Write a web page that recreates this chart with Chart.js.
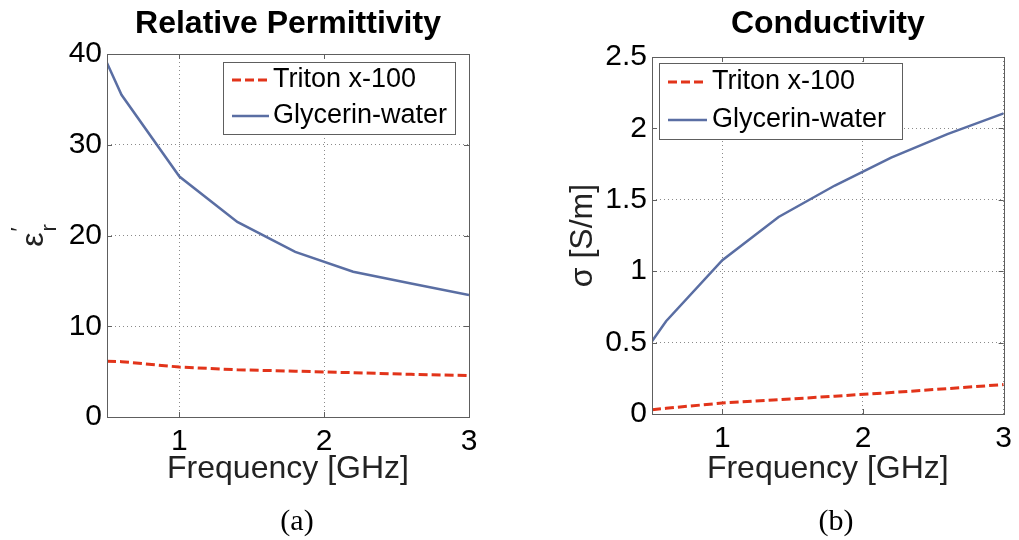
<!DOCTYPE html>
<html lang="en">
<head>
<meta charset="UTF-8">
<title>Relative Permittivity and Conductivity</title>
<script src="https://cdn.jsdelivr.net/npm/chart.js"></script>
<style>
  body { margin: 0; background: #fff; width: 1019px; height: 540px; position: relative; overflow: hidden; }
  .panel { position: absolute; top: 0; }
  .caption {
    position: absolute; top: 503px; width: 100px; text-align: center;
    font-family: 'Liberation Serif', 'Times New Roman', serif; font-size: 30px; line-height: 34px; color: #000;
  }
</style>
</head>
<body>
<div class="panel" style="left:0"><canvas id="permChart" width="510" height="540"></canvas></div>
<div class="panel" style="left:510px"><canvas id="condChart" width="509" height="540"></canvas></div>
<div class="caption" style="left:247px">(a)</div>
<div class="caption" style="left:786px">(b)</div>

<script>
// frequency points [GHz]
var freq = [0.5, 0.6, 1.0, 1.4, 1.8, 2.2, 2.6, 3.0];

// relative permittivity
var epsTriton   = [6.15, 6.1, 5.5, 5.2, 5.05, 4.88, 4.7, 4.56];
var epsGlycerin = [39.0, 35.5, 26.5, 21.5, 18.2, 16.0, 14.7, 13.45];

// conductivity [S/m]
var sigTriton   = [0.03, 0.04, 0.077, 0.10, 0.125, 0.15, 0.178, 0.206];
var sigGlycerin = [0.51, 0.65, 1.077, 1.38, 1.6, 1.796, 1.96, 2.105];

var seriesNames = ['Triton x-100', 'Glycerin-water'];
var freqTicks = [1, 2, 3];
var epsTicks = [0, 10, 20, 30, 40];
var sigTicks = [0, 0.5, 1, 1.5, 2, 2.5];

var FONT = "'Liberation Sans', Arial, sans-serif";
var RED = '#e2341a';
var BLUE = '#5a6ea3';

function pts(xs, ys) {
  return xs.map(function (x, i) { return { x: x, y: ys[i] }; });
}

// box around plot, inward tick marks and the legend (matlab look)
var boxPlugin = {
  id: 'matlabBox',
  afterDatasetsDraw: function (chart, args, opts) {
    var a = chart.chartArea, ctx = chart.ctx;
    var xs = chart.scales.x, ys = chart.scales.y;
    ctx.save();
    ctx.strokeStyle = '#5e5e5e';
    ctx.lineWidth = 1;
    ctx.strokeRect(Math.round(a.left) + 0.5, Math.round(a.top) + 0.5,
      Math.round(a.right - a.left), Math.round(a.bottom - a.top));
    ctx.beginPath();
    xs.ticks.forEach(function (t) {
      var px = Math.round(xs.getPixelForValue(t.value)) + 0.5;
      ctx.moveTo(px, a.bottom); ctx.lineTo(px, a.bottom - 5);
      ctx.moveTo(px, a.top); ctx.lineTo(px, a.top + 5);
    });
    ys.ticks.forEach(function (t) {
      var py = Math.round(ys.getPixelForValue(t.value)) + 0.5;
      ctx.moveTo(a.left, py); ctx.lineTo(a.left + 5, py);
      ctx.moveTo(a.right, py); ctx.lineTo(a.right - 5, py);
    });
    ctx.stroke();

    // legend
    var L = opts.legend;
    var bx = Math.round(a.left + L.dx), by = Math.round(a.top + L.dy);
    ctx.fillStyle = '#fff';
    ctx.fillRect(bx, by, L.w, L.h);
    ctx.strokeStyle = '#5e5e5e';
    ctx.lineWidth = 1;
    ctx.strokeRect(bx + 0.5, by + 0.5, L.w, L.h);
    chart.data.datasets.forEach(function (ds, i) {
      var cy = by + L.h * (2 * i + 1) / 4;
      ctx.strokeStyle = ds.borderColor;
      ctx.lineWidth = ds.borderWidth;
      ctx.setLineDash(ds.borderDash || []);
      ctx.beginPath();
      ctx.moveTo(bx + 9, cy);
      ctx.lineTo(bx + 9 + L.line, cy);
      ctx.stroke();
      ctx.setLineDash([]);
      ctx.fillStyle = '#000';
      ctx.font = '27px ' + FONT;
      ctx.textBaseline = 'middle';
      ctx.textAlign = 'left';
      ctx.fillText(ds.label, bx + L.text, cy);
    });
    ctx.restore();
  }
};

// epsilon' with subscript r, rotated
var epsLabelPlugin = {
  id: 'epsLabel',
  afterDraw: function (chart) {
    var ctx = chart.ctx, a = chart.chartArea;
    ctx.save();
    ctx.translate(35, (a.top + a.bottom) / 2);
    ctx.rotate(-Math.PI / 2);
    ctx.fillStyle = '#222';
    ctx.textBaseline = 'alphabetic';
    ctx.textAlign = 'left';
    ctx.font = '32px ' + FONT;
    var wE = ctx.measureText('ε').width;
    ctx.font = '22px ' + FONT;
    var wR = Math.max(ctx.measureText('r').width, ctx.measureText('′').width);
    var x0 = -(wE + 1 + wR) / 2;
    ctx.font = '32px ' + FONT;
    ctx.fillText('ε', x0, 8);
    ctx.font = '22px ' + FONT;
    ctx.fillText('r', x0 + wE + 1, 21);
    ctx.fillText('′', x0 + wE + 1, -9);
    ctx.restore();
  }
};

function makeChart(id, o) {
  var ctx = document.getElementById(id).getContext('2d');
  return new Chart(ctx, {
    type: 'line',
    data: {
      datasets: [{
        label: seriesNames[0],
        data: pts(freq, o.triton),
        borderColor: RED,
        borderWidth: 3,
        borderDash: [9, 4],
        pointRadius: 0,
        tension: 0,
        fill: false
      }, {
        label: seriesNames[1],
        data: pts(freq, o.glycerin),
        borderColor: BLUE,
        borderWidth: 2.5,
        pointRadius: 0,
        tension: 0,
        fill: false
      }]
    },
    options: {
      responsive: false,
      animation: false,
      layout: { padding: { left: 0, right: o.padRight, top: 0, bottom: 0 } },
      plugins: {
        legend: { display: false },
        tooltip: { enabled: false },
        title: {
          display: true,
          text: o.title,
          fullSize: false,
          color: '#000',
          font: { family: FONT, size: 32, weight: 'bold' },
          padding: { top: 5, bottom: o.titleGap }
        },
        matlabBox: { legend: o.legend }
      },
      scales: {
        x: {
          type: 'linear',
          min: 0.5,
          max: 3,
          afterBuildTicks: function (s) { s.ticks = freqTicks.map(function (v) { return { value: v }; }); },
          afterFit: function (s) { s.height = o.xHeight; },
          grid: { color: '#8a8a8a', lineWidth: 1, drawTicks: false },
          border: { display: false, dash: [1, 3] },
          ticks: {
            color: '#000', padding: 7, font: { family: FONT, size: 30 },
            callback: function (v) { return String(v); }
          },
          title: {
            display: true,
            text: 'Frequency [GHz]',
            color: '#222',
            font: { family: FONT, size: 32 },
            padding: { top: 0, bottom: 52 }
          }
        },
        y: {
          min: 0,
          max: o.yMax,
          afterBuildTicks: function (s) { s.ticks = o.yTicks.map(function (v) { return { value: v }; }); },
          afterFit: function (s) { s.width = o.yWidth; },
          grid: { color: '#8a8a8a', lineWidth: 1, drawTicks: false },
          border: { display: false, dash: [1, 3] },
          ticks: {
            color: '#000', padding: 5, font: { family: FONT, size: 30 },
            callback: function (v) { return String(v); }
          },
          title: {
            display: !!o.yTitle,
            text: o.yTitle || '',
            color: '#222',
            font: { family: FONT, size: 32 },
            padding: { top: 54, bottom: 0 }
          }
        }
      }
    },
    plugins: o.extra ? [boxPlugin, o.extra] : [boxPlugin]
  });
}

makeChart('permChart', {
  title: 'Relative Permittivity',
  triton: epsTriton,
  glycerin: epsGlycerin,
  yMax: 40,
  yTicks: epsTicks,
  yWidth: 107,
  xHeight: 123,
  padRight: 41,
  titleGap: 10.6,
  legend: { dx: 116, dy: 8, w: 232, h: 72, line: 37, text: 50 },
  extra: epsLabelPlugin
});

makeChart('condChart', {
  title: 'Conductivity',
  triton: sigTriton,
  glycerin: sigGlycerin,
  yMax: 2.5,
  yTicks: sigTicks,
  yTitle: 'σ [S/m]',
  yWidth: 142,
  xHeight: 126,
  padRight: 11,
  titleGap: 13.6,
  legend: { dx: 7, dy: 6, w: 243, h: 76, line: 39, text: 53 }
});
</script>
</body>
</html>
